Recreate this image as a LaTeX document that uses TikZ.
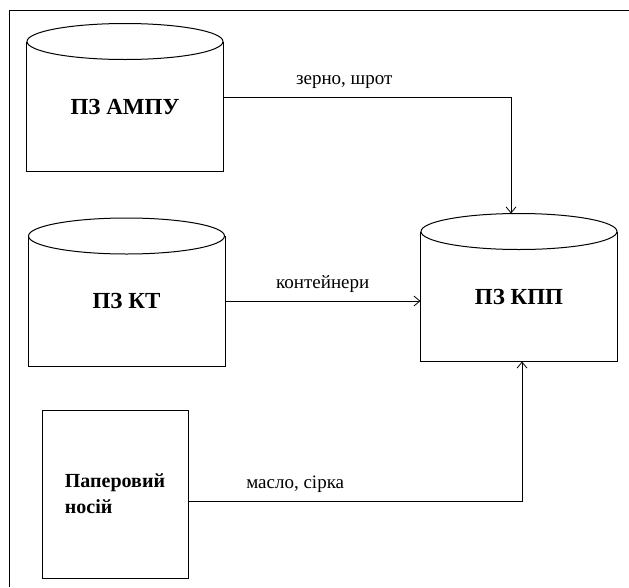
\documentclass[tikz,border=0pt]{standalone}
\usepackage{fontspec}
\setmainfont{Liberation Serif}
\usetikzlibrary{arrows.meta}

\newcommand{\storeshape}[1]{%
  \draw (#1.north west) -- (#1.south west) -- (#1.south east) -- (#1.north east);
  \draw[fill=white] (#1.north) ellipse (98pt and 18pt);}

\begin{document}
\begin{tikzpicture}[x=1pt,y=-1pt,line width=1pt,
    >={Straight Barb[length=6pt,width=10pt,line width=0.8pt]},
    store/.style={minimum width=196pt,minimum height=129pt,inner sep=0pt,
      font=\fontsize{23}{27}\selectfont\bfseries},
    flowlabel/.style={font=\fontsize{19}{22}\selectfont,inner sep=0pt,above=8pt}]
  \useasboundingbox (0,0) rectangle (629,587);
  \draw (9,587) -- (9,10) -- (629,10);

  \node [store] (ampu) at (125,106.5) {ПЗ АМПУ};
  \node [store] (kt) at (126.5,301) {ПЗ КТ};
  \node [store] (kpp) at (519,296.5) {ПЗ КПП};
  \node [draw,minimum width=146pt,minimum height=168pt,align=left,
    font=\fontsize{20}{26}\selectfont\bfseries] (paper) at (115,494) {Паперовий\\носій};

  \storeshape{ampu}
  \storeshape{kt}
  \storeshape{kpp}

  \draw[->] ([yshift=9.5pt]ampu.east) -| node[flowlabel,pos=0.21] {зерно, шрот} ([xshift=-8pt,yshift=18pt]kpp.north);
  \draw[->] (kt.east) -- node[flowlabel] {контейнери} (kt.east -| kpp.west);
  \draw[->] ([yshift=-7pt]paper.east) -| node[flowlabel,pos=0.16] {масло, сірка} ([xshift=3pt]kpp.south);
\end{tikzpicture}
\end{document}
